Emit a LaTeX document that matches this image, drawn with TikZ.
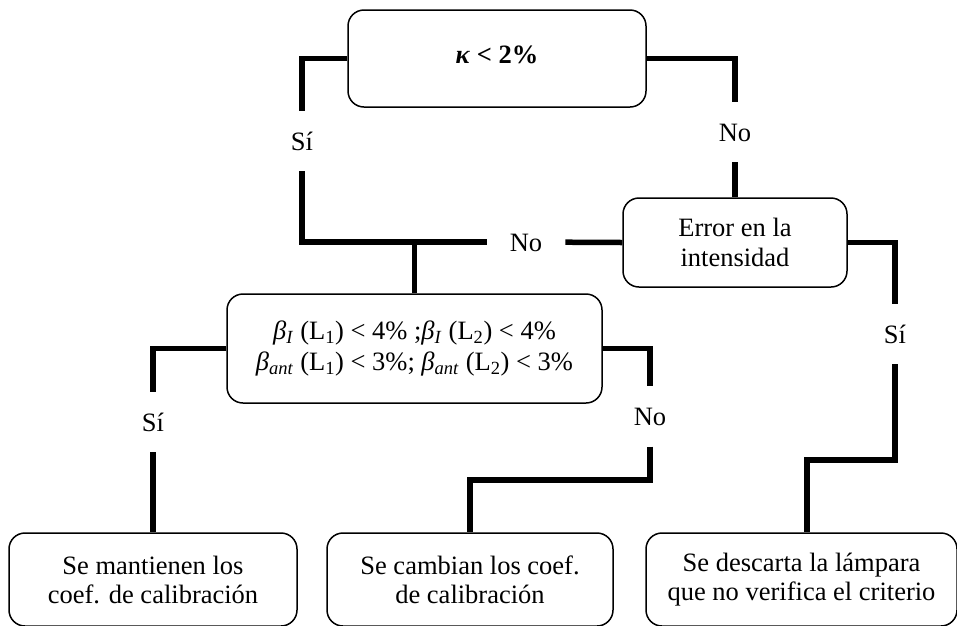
\documentclass[tikz,border=0pt]{standalone}
\usepackage{fontspec}
\setmainfont{Liberation Serif}
\tikzset{
  box/.style={draw, line width=1.5pt, rounded corners=16pt, inner sep=0pt, align=center,
    font=\fontsize{26.5}{29}\selectfont},
  link/.style={line width=5.5pt},
  lbl/.style={inner xsep=23pt, inner ysep=21pt, text height=18pt, text depth=0pt,
    font=\fontsize{26.5}{29}\selectfont}
}
\newcommand{\bsub}[1]{\textit{β}\textsubscript{\textit{#1}}}

\begin{document}
\begin{tikzpicture}[x=1pt,y=-1pt]
				\useasboundingbox (0,0) rectangle (957,625);
				\clip (0,0) rectangle (957,625);
				\node[box, minimum width=298pt, minimum height=97pt, text height=18pt, text depth=9pt] (kappa) at (497,58.5) {\textbf{\textit{κ} < 2\%}};
				\node[box, minimum width=224pt, minimum height=89pt, font=\fontsize{26.5}{30}\selectfont] (error) at (735,242.5) {Error en la\\intensidad};
				\node[box, minimum width=375pt, minimum height=109pt, font=\fontsize{26.5}{31}\selectfont] (beta) at (414.5,348.5)
					{\bsub{I} (L\textsubscript{1}) < 4\% ;\bsub{I} (L\textsubscript{2}) < 4\%\\
					 \bsub{ant} (L\textsubscript{1}) < 3\%; \bsub{ant} (L\textsubscript{2}) < 3\%};
				\node[box, minimum width=288pt, minimum height=93pt] (keep) at (153,579.5) {Se mantienen los\\coef. de calibración};
				\node[box, minimum width=286pt, minimum height=93pt] (change) at (470,579.5) {Se cambian los coef.\\de calibración};
				\node[box, minimum width=311pt, minimum height=93pt] (discard) at (801.5,579.5) {Se descarta la lámpara\\que no verifica el criterio};
				\node[lbl] (siA) at (302,141) {Sí};
				\node[lbl] (noA) at (735,132) {No};
				\node[lbl] (noB) at (526,242) {No};
				\node[lbl] (siB) at (153,422) {Sí};
				\node[lbl] (noC) at (650,416.5) {No};
				\node[lbl] (siC) at (895,334) {Sí};
				\coordinate (j) at (414.5,242);
				\coordinate (c1) at (650,480);
				\coordinate (c2) at (807,460);
				\draw[link] (kappa.west) -| (siA);
				\draw[link] (siA) |- (noB);
				\draw[link] (noB) -- (error.west);
				\draw[link] (kappa.east) -| (noA);
				\draw[link] (noA) -- (error.north);
				\draw[link] (j) -- (beta.north);
				\draw[link] (beta.west) -| (siB);
				\draw[link] (siB) -- (keep.north);
				\draw[link] (beta.east) -| (noC);
				\draw[link] (noC) -- (c1) -| (change.north);
				\draw[link] (error.east) -| (siC);
				\draw[link] (siC) |- (c2) -- (c2 |- discard.north);
			\end{tikzpicture}
\end{document}
